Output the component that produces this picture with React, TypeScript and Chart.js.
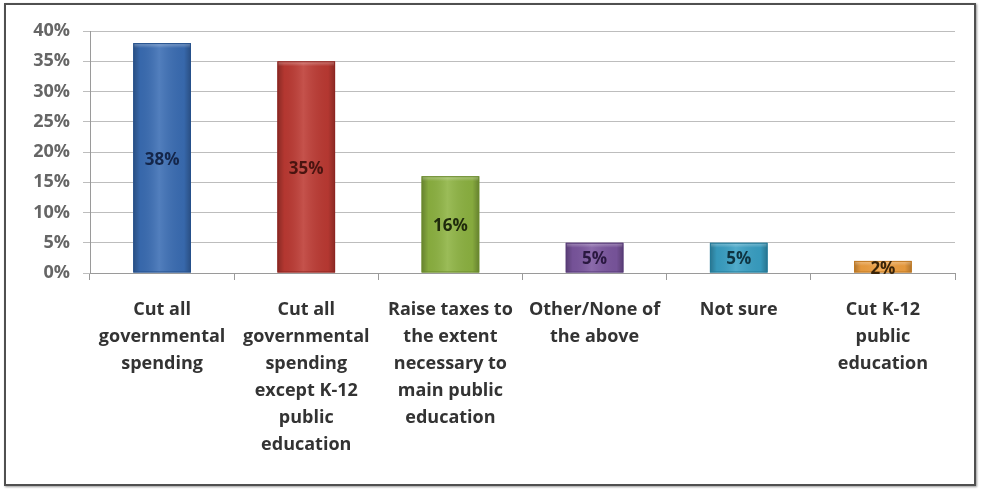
import React, { useEffect, useRef } from "react";
import { Chart, registerables } from "chart.js";
Chart.register(...registerables);

const categories: string[][] = [
  ["Cut all", "governmental", "spending"],
  ["Cut all", "governmental", "spending", "except K-12", "public", "education"],
  ["Raise taxes to", "the extent", "necessary to", "main public", "education"],
  ["Other/None of", "the above"],
  ["Not sure"],
  ["Cut K-12", "public", "education"],
];
const values: number[] = [38, 35, 16, 5, 5, 2];
const valueLabels: string[] = ["38%", "35%", "16%", "5%", "5%", "2%"];
const yMin = 0;
const yMax = 40;
const yStep = 5;

const barColors = ["#3a6db4", "#bd3a33", "#8db341", "#7b569f", "#39a0c4", "#f0a040"];
const barEdges = ["#24508c", "#8e2520", "#6a8a2c", "#573a78", "#237a98", "#c07820"];
const labelColors = ["#14264a", "#4a1410", "#1f2a0c", "#2a1840", "#0e3340", "#3a2408"];

const FONT = '"Open Sans", Lato, sans-serif';

export default function App() {
  const ref = useRef<HTMLCanvasElement | null>(null);
  useEffect(() => {
    if (!ref.current) return;
    const shade = {
      id: "shade",
      afterDatasetsDraw(chart: any) {
        const ctx = chart.ctx;
        const meta = chart.getDatasetMeta(0);
        meta.data.forEach((bar: any, i: number) => {
          const p = bar.getProps(["x", "y", "base", "width"], true);
          const l = p.x - p.width / 2;
          const g = ctx.createLinearGradient(l, 0, l + p.width, 0);
          g.addColorStop(0, "rgba(0,0,0,0.28)");
          g.addColorStop(0.12, "rgba(0,0,0,0.05)");
          g.addColorStop(0.45, "rgba(255,255,255,0.12)");
          g.addColorStop(0.88, "rgba(0,0,0,0.05)");
          g.addColorStop(1, "rgba(0,0,0,0.28)");
          ctx.save();
          ctx.fillStyle = g;
          ctx.fillRect(l, p.y, p.width, p.base - p.y);
          const h = Math.min(5, p.base - p.y);
          const g2 = ctx.createLinearGradient(0, p.y, 0, p.y + h);
          g2.addColorStop(0, "rgba(255,255,255,0.35)");
          g2.addColorStop(1, "rgba(255,255,255,0)");
          ctx.fillStyle = g2;
          ctx.fillRect(l, p.y, p.width, h);
          ctx.strokeStyle = barEdges[i];
          ctx.lineWidth = 1;
          ctx.strokeRect(l + 0.5, p.y + 0.5, p.width - 1, p.base - p.y - 1);
          ctx.restore();
        });
      },
    };
    const dataLabels = {
      id: "dataLabels",
      afterDatasetsDraw(chart: any) {
        const ctx = chart.ctx;
        const meta = chart.getDatasetMeta(0);
        ctx.save();
        ctx.font = `bold 17px ${FONT}`;
        ctx.textAlign = "center";
        ctx.textBaseline = "middle";
        meta.data.forEach((bar: any, i: number) => {
          const p = bar.getProps(["x", "y", "base"], true);
          ctx.fillStyle = labelColors[i];
          ctx.fillText(valueLabels[i], p.x, (p.y + p.base) / 2 + 2);
        });
        ctx.restore();
      },
    };
    const chart = new Chart(ref.current, {
      type: "bar",
      data: {
        labels: categories,
        datasets: [
          {
            data: values,
            backgroundColor: barColors,
            borderWidth: 0,
            barPercentage: 0.8,
            categoryPercentage: 0.5,
          },
        ],
      },
      options: {
        animation: false,
        responsive: false,
        maintainAspectRatio: false,
        layout: { padding: { top: 31, right: 26, left: 0, bottom: 0 } },
        plugins: { legend: { display: false }, tooltip: { enabled: false } },
        scales: {
          x: {
            afterFit: (s: any) => {
              s.height = 216;
            },
            grid: {
              offset: true,
              drawOnChartArea: false,
              drawTicks: true,
              tickLength: 7,
              color: "#9a9a9a",
            },
            border: { display: true, color: "#9a9a9a" },
            ticks: {
              color: "#333333",
              font: { family: FONT, size: 18, weight: "bold", lineHeight: 1.5 },
              padding: 16,
              maxRotation: 0,
              autoSkip: false,
            },
          },
          y: {
            min: yMin,
            max: yMax,
            afterFit: (s: any) => {
              s.width = 90;
            },
            grid: { color: "#bdbdbd", tickLength: 7 },
            border: { display: true, color: "#9a9a9a" },
            ticks: {
              stepSize: yStep,
              color: "#666666",
              padding: 13,
              font: { family: FONT, size: 18, weight: "bold" },
              callback: (v: any) => `${v}%`,
            },
          },
        },
      },
      plugins: [shade, dataLabels],
    });
    return () => chart.destroy();
  }, []);
  return (
    <div style={{ position: "fixed", left: 0, top: 0, width: 981, height: 489, background: "#ffffff" }}>
      <canvas ref={ref} width={981} height={489} style={{ position: "absolute", left: 0, top: 0 }} />
      <div
        style={{
          position: "absolute",
          left: 4,
          top: 3,
          width: 968,
          height: 479,
          border: "2px solid #505050",
          boxShadow: "1px 1px 2px rgba(0,0,0,0.4)",
          pointerEvents: "none",
        }}
      />
    </div>
  );
}
